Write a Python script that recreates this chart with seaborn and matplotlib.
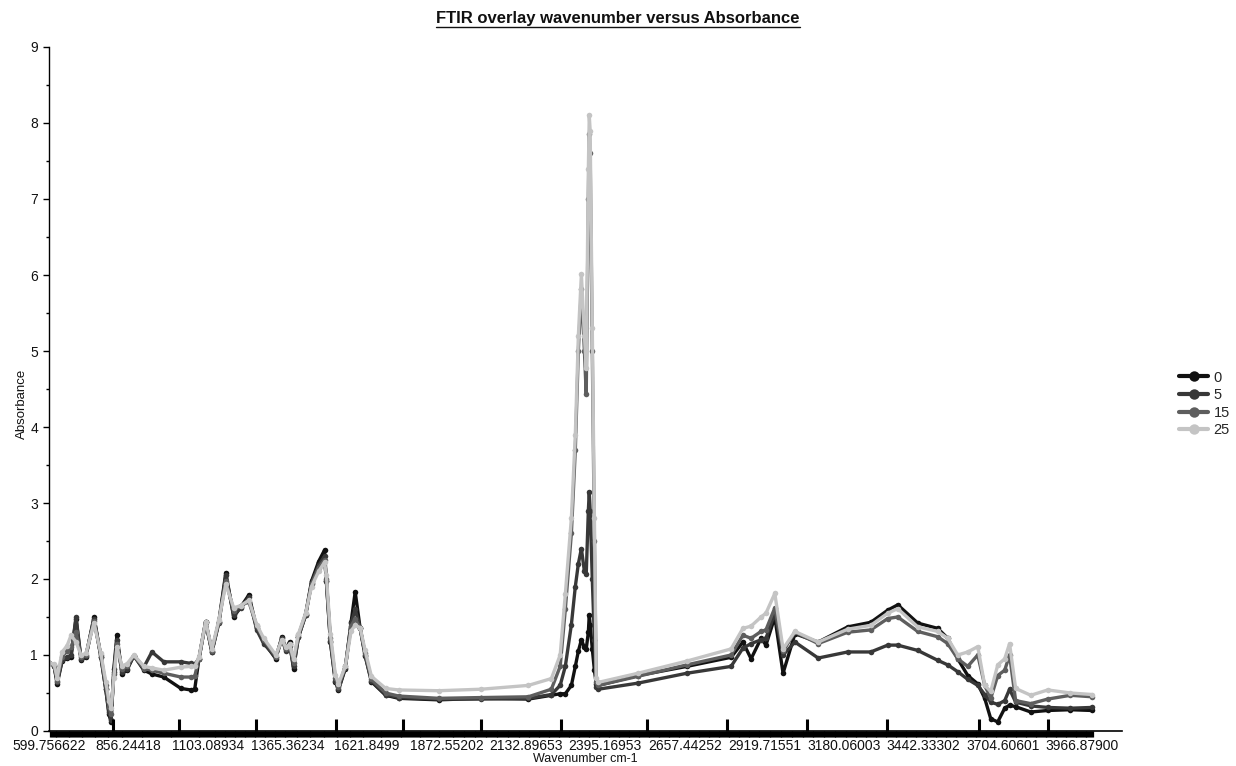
import numpy as np
import pandas as pd
import matplotlib
matplotlib.use("Agg")
import matplotlib.pyplot as plt
import seaborn as sns
from matplotlib.lines import Line2D
from matplotlib.ticker import FixedLocator, MultipleLocator, NullFormatter

# ---------------- data ----------------
tick_labels = ["599.756622", "856.24418", "1103.08934", "1365.36234", "1621.8499",
               "1872.55202", "2132.89653", "2395.16953", "2657.44252", "2919.71551",
               "3180.06003", "3442.33302", "3704.60601", "3966.87900"]

series_names = ["0", "5", "15", "25"]

wavenumber = [600, 616, 626, 642, 658, 671, 687, 703, 719, 745, 767, 783, 793, 800,
              809, 819, 835, 851, 873, 904, 929, 966, 1019, 1050, 1062, 1075, 1096,
              1116, 1139, 1162, 1188, 1211, 1238, 1264, 1287, 1327, 1347, 1360, 1372,
              1385, 1401, 1424, 1443, 1466, 1485, 1491, 1504, 1520, 1530, 1552, 1571,
              1584, 1600, 1616, 1636, 1681, 1722, 1848, 1987, 2141, 2217, 2246, 2263,
              2283, 2296, 2306, 2316, 2326, 2332, 2339, 2342, 2345, 2352, 2359, 2365,
              2372, 2503, 2664, 2810, 2849, 2876, 2909, 2925, 2954, 2981, 3020, 3096,
              3193, 3269, 3325, 3358, 3424, 3490, 3523, 3556, 3589, 3622, 3645, 3665,
              3688, 3711, 3727, 3747, 3797, 3853, 3928, 4000]

abs_0 = [0.90, 0.86, 0.62, 0.92, 0.96, 0.98, 1.48, 0.93, 0.98, 1.50, 0.98, 0.55, 0.22, 0.12,
         0.82, 1.26, 0.75, 0.80, 0.99, 0.80, 0.75, 0.71, 0.56, 0.54, 0.55, 0.95, 1.44,
         1.04, 1.44, 2.08, 1.50, 1.63, 1.79, 1.35, 1.17, 0.95, 1.24, 1.08, 1.17,
         0.82, 1.24, 1.53, 1.97, 2.23, 2.38, 1.97, 1.17, 0.65, 0.54, 0.82, 1.44,
         1.83, 1.35, 0.99, 0.65, 0.47, 0.43, 0.41, 0.43, 0.42, 0.47, 0.49, 0.49,
         0.60, 0.85, 1.05, 1.20, 1.10, 1.08, 1.30, 1.53, 1.40, 1.08, 0.80, 0.62,
         0.60, 0.73, 0.85, 0.97, 1.17, 0.95, 1.22, 1.13, 1.50, 0.76, 1.28, 1.17,
         1.37, 1.43, 1.59, 1.66, 1.42, 1.35, 1.22, 0.95, 0.73, 0.62, 0.43, 0.16,
         0.12, 0.30, 0.34, 0.32, 0.25, 0.27, 0.28, 0.27]

abs_5 = [0.90, 0.86, 0.64, 0.93, 0.97, 1.00, 1.50, 0.95, 0.99, 1.48, 0.98, 0.55, 0.25, 0.15,
         0.78, 1.20, 0.78, 0.82, 0.99, 0.84, 1.04, 0.91, 0.91, 0.89, 0.88, 0.95, 1.44,
         1.04, 1.42, 2.05, 1.52, 1.62, 1.76, 1.33, 1.15, 0.97, 1.22, 1.05, 1.15,
         0.85, 1.24, 1.52, 1.95, 2.18, 2.30, 1.97, 1.18, 0.66, 0.55, 0.83, 1.42,
         1.60, 1.36, 1.00, 0.66, 0.48, 0.44, 0.42, 0.42, 0.43, 0.48, 0.60, 0.85,
         1.40, 1.90, 2.20, 2.40, 2.10, 2.06, 2.90, 3.15, 2.90, 2.00, 1.20, 0.58,
         0.55, 0.63, 0.76, 0.85, 1.09, 1.15, 1.20, 1.22, 1.55, 1.00, 1.17, 0.96,
         1.04, 1.04, 1.13, 1.13, 1.06, 0.93, 0.87, 0.78, 0.68, 0.60, 0.48, 0.38,
         0.35, 0.40, 0.55, 0.38, 0.33, 0.31, 0.30, 0.31]

abs_15 = [0.90, 0.87, 0.66, 0.98, 1.05, 1.10, 1.30, 0.98, 1.00, 1.45, 1.00, 0.60, 0.32, 0.22,
          0.75, 1.15, 0.82, 0.85, 0.99, 0.82, 0.80, 0.76, 0.71, 0.71, 0.72, 0.95, 1.44,
          1.05, 1.44, 1.98, 1.58, 1.65, 1.70, 1.38, 1.20, 0.98, 1.20, 1.08, 1.12,
          0.90, 1.26, 1.54, 1.93, 2.15, 2.25, 2.00, 1.22, 0.70, 0.58, 0.85, 1.38,
          1.48, 1.35, 1.02, 0.68, 0.50, 0.46, 0.43, 0.44, 0.45, 0.55, 0.85, 1.60,
          2.60, 3.70, 5.00, 5.82, 5.00, 4.43, 7.00, 7.86, 7.60, 5.00, 2.50, 0.65,
          0.60, 0.72, 0.87, 1.00, 1.26, 1.22, 1.31, 1.33, 1.62, 1.05, 1.30, 1.15,
          1.30, 1.33, 1.48, 1.50, 1.31, 1.24, 1.15, 0.95, 0.85, 1.00, 0.60, 0.43,
          0.73, 0.80, 1.00, 0.40, 0.36, 0.42, 0.47, 0.45]

abs_25 = [0.90, 0.88, 0.70, 1.04, 1.12, 1.26, 1.17, 1.00, 1.02, 1.42, 1.02, 0.65, 0.40, 0.30,
          0.70, 1.10, 0.86, 0.88, 1.00, 0.85, 0.83, 0.80, 0.84, 0.85, 0.85, 0.97, 1.44,
          1.08, 1.46, 1.93, 1.62, 1.65, 1.72, 1.40, 1.22, 1.00, 1.20, 1.10, 1.14,
          0.95, 1.28, 1.55, 1.90, 2.10, 2.22, 2.05, 1.28, 0.74, 0.62, 0.85, 1.32,
          1.39, 1.36, 1.06, 0.72, 0.56, 0.54, 0.53, 0.55, 0.60, 0.69, 1.00, 1.80,
          2.80, 3.90, 5.20, 6.01, 5.20, 4.78, 7.40, 8.10, 7.90, 5.30, 2.80, 0.70,
          0.64, 0.76, 0.92, 1.08, 1.35, 1.38, 1.50, 1.55, 1.81, 1.08, 1.31, 1.17,
          1.34, 1.39, 1.55, 1.61, 1.37, 1.31, 1.22, 1.00, 1.04, 1.11, 0.60, 0.52,
          0.87, 0.95, 1.15, 0.56, 0.47, 0.54, 0.50, 0.48]

# tall tick marks on the category axis (wavenumber positions)
tick_mark_wn = [807.8, 1022.1, 1275.1, 1535.9, 1753.5, 2009.0, 2267.4, 2548.6,
                2810.6, 3071.5, 3333.0, 3632.2, 3855.4]

colors = {"0": "#111111", "5": "#383838", "15": "#5e5e5e", "25": "#c4c4c4"}

for arr in (abs_0, abs_5, abs_15, abs_25):
    assert len(arr) == len(wavenumber), len(arr)

df = pd.DataFrame({
    "Wavenumber": wavenumber * 4,
    "Absorbance": abs_0 + abs_5 + abs_15 + abs_25,
    "Sample": sum([[n] * len(wavenumber) for n in series_names], []),
})

# ---------------- style ----------------
sns.set_theme(style="white")
plt.rcParams['font.family'] = ['Liberation Sans', 'DejaVu Sans']

W, H = 1236, 766
fig = plt.figure(figsize=(W / 100, H / 100), dpi=100)
ax = fig.add_axes([49 / W, 1 - 731 / H, 1073 / W, 684 / H])

sns.lineplot(data=df, x="Wavenumber", y="Absorbance", hue="Sample",
             hue_order=series_names, palette=colors, marker="o", markersize=4,
             markeredgewidth=0, linewidth=2.4, sort=False, estimator=None, ax=ax)

# category-like x scale: labels evenly spaced
lw_arr = np.array([float(t) for t in tick_labels])
n = len(lw_arr)
anchor_u = np.concatenate([[-100.0], np.arange(n, dtype=float), [100.0]])
anchor_w = np.concatenate([[lw_arr[0] - 100 * (lw_arr[1] - lw_arr[0])], lw_arr,
                           [lw_arr[-1] + (100 - (n - 1)) * (lw_arr[-1] - lw_arr[-2])]])


def fwd(x):
    return np.interp(np.asarray(x, dtype=float), anchor_w, anchor_u)


def inv(u):
    return np.interp(np.asarray(u, dtype=float), anchor_u, anchor_w)


ax.set_xscale("function", functions=(fwd, inv))
ax.set_xlim(lw_arr[0], float(inv(13.5)))
ax.set_ylim(0, 9)

# x axis ticks
ax.xaxis.set_major_locator(FixedLocator(lw_arr))
ax.set_xticklabels(tick_labels)
ax.xaxis.set_minor_locator(FixedLocator(np.arange(lw_arr[0], wavenumber[-1] + 3, 3.0)))
ax.xaxis.set_minor_formatter(NullFormatter())
ax.tick_params(axis="x", which="major", bottom=True, length=0, pad=6,
               labelsize=10, labelcolor="#111111")
ax.tick_params(axis="x", which="minor", bottom=True, direction="out", length=4.5,
               width=0.9, color="black")

# y axis ticks
ax.yaxis.set_major_locator(MultipleLocator(1))
ax.yaxis.set_minor_locator(MultipleLocator(0.5))
ax.tick_params(axis="y", which="major", left=True, direction="out", length=4,
               width=1, color="black", labelsize=10, labelcolor="#111111", pad=4)
ax.tick_params(axis="y", which="minor", left=True, direction="out", length=2.5,
               width=1, color="black")

for s in ("top", "right"):
    ax.spines[s].set_visible(False)
ax.spines["left"].set_color("black")
ax.spines["left"].set_linewidth(1.0)
ax.spines["bottom"].set_color("black")
ax.spines["bottom"].set_linewidth(1.2)

# twin axis for the tall tick marks
ax2 = ax.twiny()
ax2.set_xlim(ax.get_xlim())
ax2.xaxis.set_major_locator(FixedLocator(tick_mark_wn))
ax2.xaxis.set_ticks_position("bottom")
ax2.tick_params(axis="x", which="major", direction="in", length=9, width=2.2,
                color="black", labelbottom=False, labeltop=False)
ax2.xaxis.set_minor_locator(FixedLocator([]))
for s in ax2.spines.values():
    s.set_visible(False)
ax2.patch.set_visible(False)

# labels
ax.set_xlabel("Wavenumber cm-1", fontsize=9, color="#111111")
ax.xaxis.set_label_coords(0.5, -0.032)
ax.set_ylabel("Absorbance", fontsize=9.5, color="#111111")
ax.yaxis.set_label_coords(-0.02, 0.478)

# legend
handles, labels = ax.get_legend_handles_labels()
if ax.get_legend() is not None:
    ax.get_legend().remove()
leg = fig.legend(handles, labels, loc="center left",
                 bbox_to_anchor=(1166 / W, 1 - 404 / H), frameon=False,
                 fontsize=10.5, handlelength=2.0, labelspacing=0.25, handletextpad=0.35)
for h in leg.legend_handles:
    h.set_linewidth(3)
    h.set_marker("o")
    h.set_markersize(7.5)
    h.set_markeredgewidth(0)

# title, underlined
title = fig.text(0.5, 1 - 18 / H, "FTIR overlay wavenumber versus Absorbance",
                 ha="center", va="center", fontsize=12, fontweight="bold", color="#111111")
fig.canvas.draw()
bb = title.get_window_extent()
fig.add_artist(Line2D([bb.x0 / W, bb.x1 / W], [(bb.y0 - 1) / H] * 2,
                      transform=fig.transFigure, color="#111111", linewidth=1.0))

fig.savefig("out.png", dpi=100)
